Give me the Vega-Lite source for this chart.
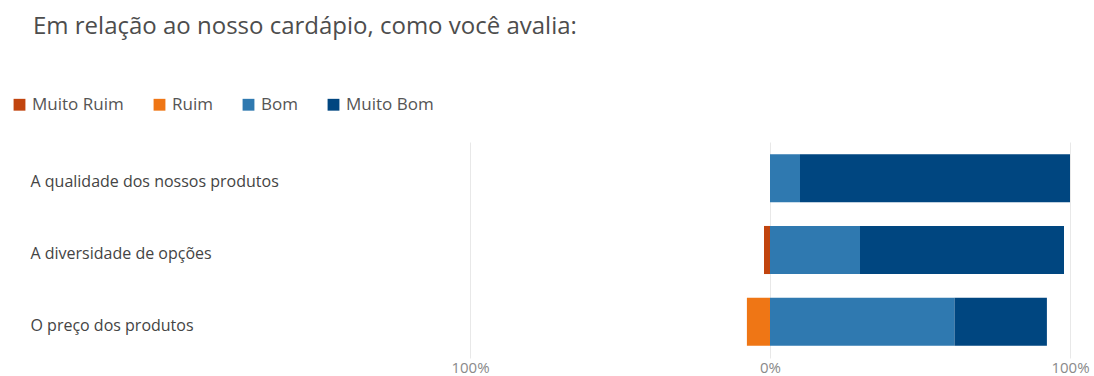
{
  "$schema": "https://vega.github.io/schema/vega-lite/v6.json",
  "autosize": {"type": "none"},
  "width": 600,
  "height": 216,
  "padding": {"left": 470, "top": 142, "right": 24, "bottom": 18},
  "background": "white",
  "title": {
    "text": "Em relação ao nosso cardápio, como você avalia:",
    "anchor": "start",
    "frame": "group",
    "dx": -437,
    "dy": -53,
    "font": "Open Sans",
    "fontSize": 24,
    "fontWeight": "normal",
    "color": "#4d4d4d"
  },
  "data": {
    "values": [
      {"pergunta": "A qualidade dos nossos produtos", "resposta": "Bom", "valor": 10, "ordem": 3},
      {"pergunta": "A qualidade dos nossos produtos", "resposta": "Muito Bom", "valor": 90, "ordem": 4},
      {"pergunta": "A diversidade de opções", "resposta": "Muito Ruim", "valor": -2, "ordem": 1},
      {"pergunta": "A diversidade de opções", "resposta": "Bom", "valor": 30, "ordem": 3},
      {"pergunta": "A diversidade de opções", "resposta": "Muito Bom", "valor": 68, "ordem": 4},
      {"pergunta": "O preço dos produtos", "resposta": "Ruim", "valor": -7.7, "ordem": 2},
      {"pergunta": "O preço dos produtos", "resposta": "Bom", "valor": 61.5, "ordem": 3},
      {"pergunta": "O preço dos produtos", "resposta": "Muito Bom", "valor": 30.8, "ordem": 4}
    ]
  },
  "mark": {"type": "bar"},
  "encoding": {
    "y": {
      "field": "pergunta",
      "type": "nominal",
      "sort": ["A qualidade dos nossos produtos", "A diversidade de opções", "O preço dos produtos"],
      "scale": {"paddingInner": 0.33, "paddingOuter": 0.17},
      "axis": {
        "title": null,
        "domain": false,
        "ticks": false,
        "tickSize": 0,
        "labelAlign": "left",
        "labelPadding": 440,
        "labelOffset": 4,
        "labelFont": "Open Sans",
        "labelFontSize": 16,
        "labelColor": "#444444",
        "labelLimit": 420
      }
    },
    "x": {
      "field": "valor",
      "type": "quantitative",
      "stack": "zero",
      "scale": {"domain": [-100, 100], "nice": false},
      "axis": {
        "title": null,
        "values": [-100, 0, 100],
        "labelExpr": "abs(datum.value) + '%'",
        "domain": false,
        "ticks": false,
        "tickSize": 0,
        "labelPadding": 2,
        "labelFont": "Open Sans",
        "labelFontSize": 15,
        "labelColor": "#8a8a8a",
        "gridColor": "#e8e8e8",
        "labelFlush": false
      }
    },
    "color": {
      "field": "resposta",
      "type": "nominal",
      "scale": {
        "domain": ["Muito Ruim", "Ruim", "Bom", "Muito Bom"],
        "range": ["#c1440e", "#ef7615", "#2f79b0", "#004680"]
      },
      "legend": {
        "title": null,
        "orient": "none",
        "direction": "horizontal",
        "legendX": -459,
        "legendY": -46,
        "symbolType": "square",
        "symbolSize": 140,
        "symbolStrokeWidth": 0,
        "symbolOpacity": 1,
        "labelFont": "Open Sans",
        "labelFontSize": 17,
        "labelColor": "#555555",
        "labelOffset": 4,
        "columnPadding": 27
      }
    },
    "order": {"field": "ordem", "type": "quantitative"}
  },
  "config": {"view": {"stroke": null}}
}
